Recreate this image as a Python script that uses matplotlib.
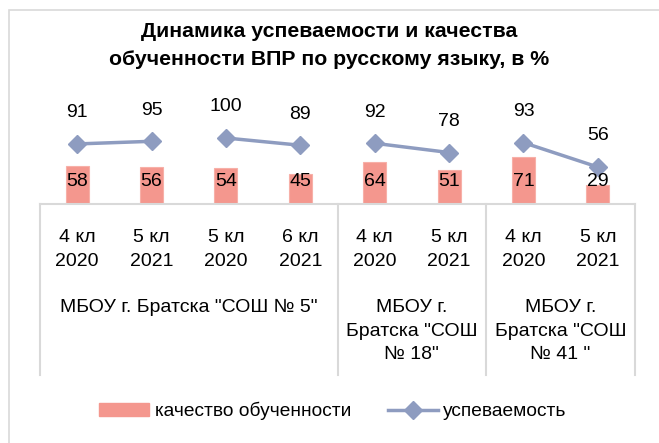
import matplotlib
matplotlib.use("Agg")
import matplotlib.pyplot as plt
from matplotlib.patches import Rectangle
from matplotlib.lines import Line2D
from matplotlib.patches import Patch
import numpy as np

plt.rcParams['font.family'] = ['Liberation Sans', 'DejaVu Sans']

title = "Динамика успеваемости и качества\nобученности ВПР по русскому языку, в %"
classes = ["4 кл\n2020", "5 кл\n2021", "5 кл\n2020", "6 кл\n2021",
           "4 кл\n2020", "5 кл\n2021", "4 кл\n2020", "5 кл\n2021"]
groups = ['МБОУ г. Братска "СОШ № 5"', 'МБОУ г.\nБратска "СОШ\n№ 18"', 'МБОУ г.\nБратска "СОШ\n№ 41 "']
group_sizes = [4, 2, 2]
quality = [58, 56, 54, 45, 64, 51, 71, 29]
progress = [91, 95, 100, 89, 92, 78, 93, 56]
segments = [(0, 2), (2, 4), (4, 6), (6, 8)]
series_names = ["качество обученности", "успеваемость"]

bar_color = "#F4978E"
line_color = "#8E9CC0"
grid_color = "#D9D9D9"
fs = 14

W, H = 659, 443
fig = plt.figure(figsize=(W / 100, H / 100), dpi=100)

# outer border
fig.patches.append(Rectangle((9 / W, 0 - 0.1), 1.2, 1 - 10 / H + 0.1, transform=fig.transFigure,
                             fill=False, edgecolor=grid_color, linewidth=1.2, clip_on=False))

fig.text(0.50, 1 - 45.5 / H, title, ha='center', va='center', fontsize=15.3, fontweight='bold',
         linespacing=1.6)

x = np.arange(len(quality))
ax = fig.add_axes([40 / W, (H - 204) / H, 595 / W, 66 / H])
ax.set_xlim(-0.5, len(quality) - 0.5)
ax.set_ylim(0, 100)
ax.axis('off')

ax.bar(x, quality, width=0.31, color=bar_color, edgecolor="#F7B0A8", linewidth=0.8, zorder=2)
for s, e in segments:
    ax.plot(x[s:e], progress[s:e], color=line_color, linewidth=2.5, marker='D', markersize=9,
            zorder=3, clip_on=False)

for xi, q in zip(x, quality):
    ax.annotate(str(q), (xi, 0), xytext=(0, 16.3), textcoords='offset points',
                ha='center', va='center', fontsize=fs, zorder=4)
for xi, p in zip(x, progress):
    ax.annotate(str(p), (xi, p), xytext=(0, 22.5), textcoords='offset points',
                ha='center', va='center', fontsize=fs, zorder=4, annotation_clip=False)

# category area
cax = fig.add_axes([40 / W, (H - 375) / H, 595 / W, 171 / H])
cax.set_xlim(-0.5, len(quality) - 0.5)
cax.set_ylim(171, 0)
cax.axis('off')
cax.plot([-0.5, len(quality) - 0.5], [0, 0], color=grid_color, linewidth=1.5, clip_on=False)
bounds = np.concatenate([[0], np.cumsum(group_sizes)]) - 0.5
for b in bounds:
    cax.plot([b, b], [0, 171], color=grid_color, linewidth=1.5, clip_on=False)
for xi, c in zip(x, classes):
    cax.text(xi, 45.5, c, ha='center', va='center', fontsize=fs, linespacing=1.55)
for i, g in enumerate(groups):
    cx = (bounds[i] + bounds[i + 1]) / 2
    cax.text(cx, 95, g, ha='center', va='top', fontsize=fs, linespacing=1.5)

handles = [Patch(facecolor=bar_color, edgecolor=bar_color),
           Line2D([0], [0], color=line_color, linewidth=2.5, marker='D', markersize=9)]
fig.legend(handles, series_names, loc='center', bbox_to_anchor=(333 / W, 1 - 411 / H), ncol=2,
           frameon=False, fontsize=13.8, handlelength=2.6, handleheight=0.68, columnspacing=1.9,
           handletextpad=0.3)

fig.savefig("out.png", dpi=100)
